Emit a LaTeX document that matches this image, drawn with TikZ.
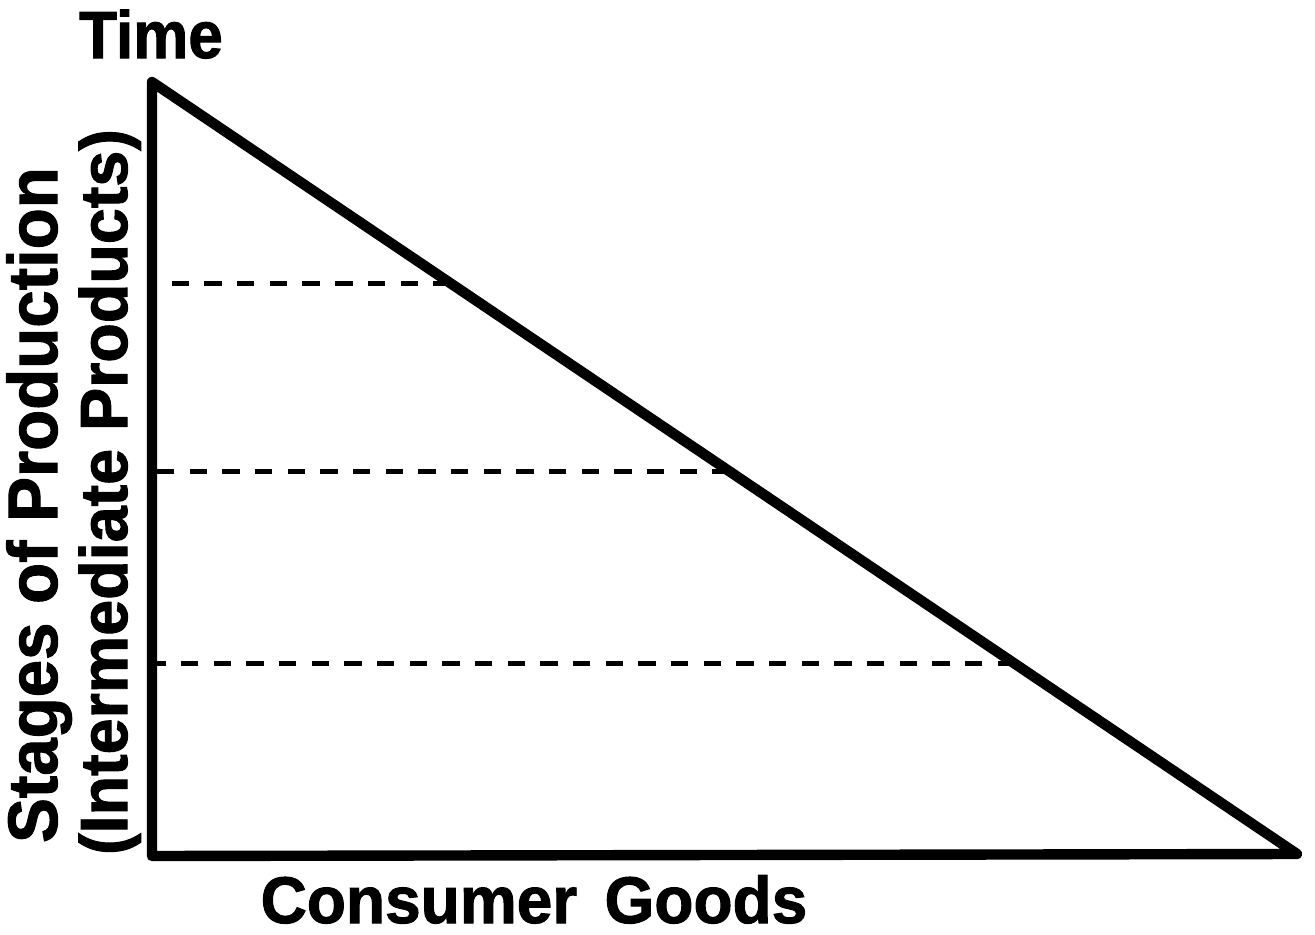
\documentclass[tikz,border=0pt]{standalone}
\usepackage{fontspec}
\setmainfont{Liberation Sans}[BoldFeatures={FakeBold=1.5}]
\usetikzlibrary{calc}
\tikzset{
  axisline/.style={line width=7.8pt, line join=round, line cap=round},
  stagedash/.style={line width=3.8pt, dash pattern=on 13pt off 11.5pt},
  lbl/.style={inner sep=0pt, font=\bfseries},
}
\begin{document}
\begin{tikzpicture}[x=0.75pt,y=-0.75pt]
\useasboundingbox (0,0) rectangle (1315,935);
\coordinate (top) at (152,82);
\coordinate (origin) at (152,856);
\coordinate (right) at (1297,854);
% dashed stage lines
\coordinate (d1) at ($(top)!0.2607!(right)$);
\coordinate (d2) at ($(top)!0.5045!(right)$);
\coordinate (d3) at ($(top)!0.7536!(right)$);
\coordinate (l1) at (top |- d1);
\coordinate (l2) at (top |- d2);
\coordinate (l3) at (top |- d3);
\draw[stagedash] (d1) -- (l1);
\draw[stagedash] (d2) -- (l2);
\draw[stagedash] (d3) -- (l3);
% triangle
\draw[axisline] (top) -- (origin) -- (right) -- cycle;
% labels
\node[lbl, anchor=base, xscale=0.93, font=\bfseries\fontsize{50pt}{50pt}\selectfont] (time) at (151,58) {Time};
\node[lbl, anchor=base, xscale=0.97, font=\bfseries\fontsize{49.5pt}{50pt}\selectfont] (cg) at (534,923) {Consumer\hspace{0.15em} Goods};
\node[lbl, anchor=base, rotate=90, xscale=0.96, font=\bfseries\fontsize{52.5pt}{53pt}\selectfont] (stages) at (57,505) {Stages of Production};
\node[lbl, anchor=base, rotate=90, xscale=0.97, font=\bfseries\fontsize{50pt}{50pt}\selectfont] (inter) at (127,492) {(Intermediate Products)};
\end{tikzpicture}
\end{document}
